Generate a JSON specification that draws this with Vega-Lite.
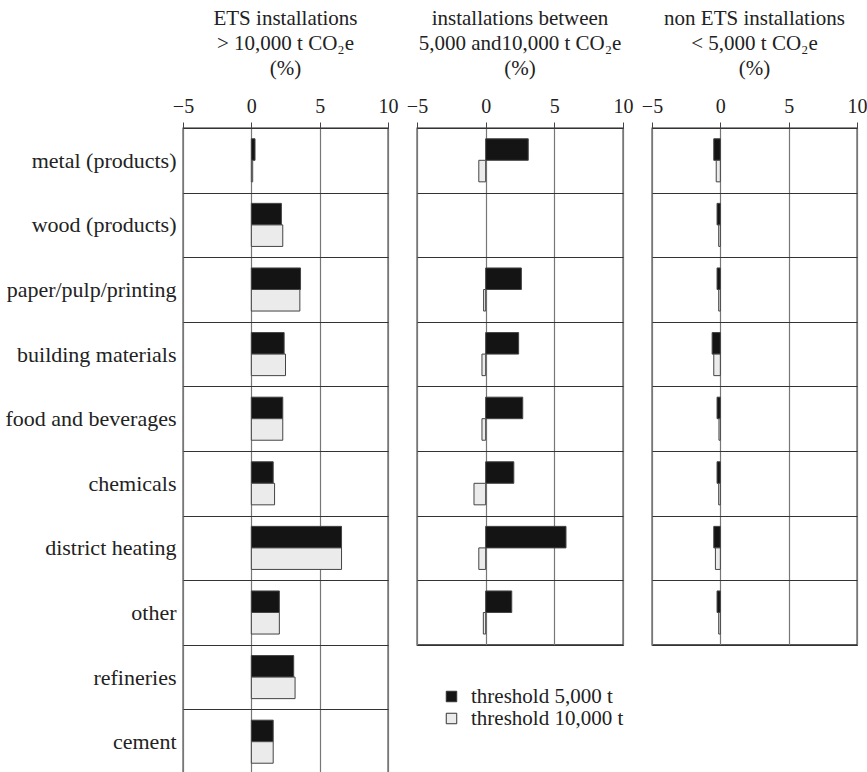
{
  "$schema": "https://vega.github.io/schema/vega-lite/v6.json",
  "padding": {"left": 4, "top": 7, "right": 5, "bottom": 0},
  "background": "white",
  "data": {
    "values": [
      {"panel": "ets", "sector": "metal (products)", "threshold": "threshold 5,000 t", "value": 0.27},
      {"panel": "ets", "sector": "metal (products)", "threshold": "threshold 10,000 t", "value": 0.1},
      {"panel": "ets", "sector": "wood (products)", "threshold": "threshold 5,000 t", "value": 2.2},
      {"panel": "ets", "sector": "wood (products)", "threshold": "threshold 10,000 t", "value": 2.3},
      {"panel": "ets", "sector": "paper/pulp/printing", "threshold": "threshold 5,000 t", "value": 3.6},
      {"panel": "ets", "sector": "paper/pulp/printing", "threshold": "threshold 10,000 t", "value": 3.55},
      {"panel": "ets", "sector": "building materials", "threshold": "threshold 5,000 t", "value": 2.4},
      {"panel": "ets", "sector": "building materials", "threshold": "threshold 10,000 t", "value": 2.5},
      {"panel": "ets", "sector": "food and beverages", "threshold": "threshold 5,000 t", "value": 2.3},
      {"panel": "ets", "sector": "food and beverages", "threshold": "threshold 10,000 t", "value": 2.3},
      {"panel": "ets", "sector": "chemicals", "threshold": "threshold 5,000 t", "value": 1.6},
      {"panel": "ets", "sector": "chemicals", "threshold": "threshold 10,000 t", "value": 1.7},
      {"panel": "ets", "sector": "district heating", "threshold": "threshold 5,000 t", "value": 6.6},
      {"panel": "ets", "sector": "district heating", "threshold": "threshold 10,000 t", "value": 6.6},
      {"panel": "ets", "sector": "other", "threshold": "threshold 5,000 t", "value": 2.05},
      {"panel": "ets", "sector": "other", "threshold": "threshold 10,000 t", "value": 2.05},
      {"panel": "ets", "sector": "refineries", "threshold": "threshold 5,000 t", "value": 3.1},
      {"panel": "ets", "sector": "refineries", "threshold": "threshold 10,000 t", "value": 3.2},
      {"panel": "ets", "sector": "cement", "threshold": "threshold 5,000 t", "value": 1.6},
      {"panel": "ets", "sector": "cement", "threshold": "threshold 10,000 t", "value": 1.6},
      {"panel": "mid", "sector": "metal (products)", "threshold": "threshold 5,000 t", "value": 3.1},
      {"panel": "mid", "sector": "metal (products)", "threshold": "threshold 10,000 t", "value": -0.5},
      {"panel": "mid", "sector": "paper/pulp/printing", "threshold": "threshold 5,000 t", "value": 2.6},
      {"panel": "mid", "sector": "paper/pulp/printing", "threshold": "threshold 10,000 t", "value": -0.15},
      {"panel": "mid", "sector": "building materials", "threshold": "threshold 5,000 t", "value": 2.4},
      {"panel": "mid", "sector": "building materials", "threshold": "threshold 10,000 t", "value": -0.27},
      {"panel": "mid", "sector": "food and beverages", "threshold": "threshold 5,000 t", "value": 2.7},
      {"panel": "mid", "sector": "food and beverages", "threshold": "threshold 10,000 t", "value": -0.27},
      {"panel": "mid", "sector": "chemicals", "threshold": "threshold 5,000 t", "value": 2.05},
      {"panel": "mid", "sector": "chemicals", "threshold": "threshold 10,000 t", "value": -0.85},
      {"panel": "mid", "sector": "district heating", "threshold": "threshold 5,000 t", "value": 5.85},
      {"panel": "mid", "sector": "district heating", "threshold": "threshold 10,000 t", "value": -0.5},
      {"panel": "mid", "sector": "other", "threshold": "threshold 5,000 t", "value": 1.9},
      {"panel": "mid", "sector": "other", "threshold": "threshold 10,000 t", "value": -0.17},
      {"panel": "non", "sector": "metal (products)", "threshold": "threshold 5,000 t", "value": -0.48},
      {"panel": "non", "sector": "metal (products)", "threshold": "threshold 10,000 t", "value": -0.3},
      {"panel": "non", "sector": "wood (products)", "threshold": "threshold 5,000 t", "value": -0.24},
      {"panel": "non", "sector": "wood (products)", "threshold": "threshold 10,000 t", "value": -0.12},
      {"panel": "non", "sector": "paper/pulp/printing", "threshold": "threshold 5,000 t", "value": -0.24},
      {"panel": "non", "sector": "paper/pulp/printing", "threshold": "threshold 10,000 t", "value": -0.12},
      {"panel": "non", "sector": "building materials", "threshold": "threshold 5,000 t", "value": -0.6},
      {"panel": "non", "sector": "building materials", "threshold": "threshold 10,000 t", "value": -0.48},
      {"panel": "non", "sector": "food and beverages", "threshold": "threshold 5,000 t", "value": -0.24},
      {"panel": "non", "sector": "food and beverages", "threshold": "threshold 10,000 t", "value": -0.1},
      {"panel": "non", "sector": "chemicals", "threshold": "threshold 5,000 t", "value": -0.24},
      {"panel": "non", "sector": "chemicals", "threshold": "threshold 10,000 t", "value": -0.12},
      {"panel": "non", "sector": "district heating", "threshold": "threshold 5,000 t", "value": -0.48},
      {"panel": "non", "sector": "district heating", "threshold": "threshold 10,000 t", "value": -0.36},
      {"panel": "non", "sector": "other", "threshold": "threshold 5,000 t", "value": -0.24},
      {"panel": "non", "sector": "other", "threshold": "threshold 10,000 t", "value": -0.12}
    ]
  },
  "config": {
    "font": "Liberation Serif",
    "view": {"stroke": "#222", "strokeWidth": 1.3},
    "concat": {"spacing": 29},
    "title": {"font": "Liberation Serif", "fontSize": 21, "fontWeight": "normal", "color": "#222", "lineHeight": 25, "anchor": "middle", "offset": 17},
    "axisX": {
      "orient": "top", "title": null, "labelFont": "Liberation Serif", "labelFontSize": 20, "labelColor": "#222",
      "tickSize": 6, "tickColor": "#444", "labelPadding": 6, "domain": false, "grid": true, "gridColor": "#777", "gridWidth": 1.2, "gridOpacity": 1, "labelFlush": false
    },
    "axisY": {
      "title": null, "ticks": false, "domain": false, "grid": true, "gridColor": "#333", "gridWidth": 1.2, "gridOpacity": 1, "tickBand": "extent",
      "labelFont": "Liberation Serif", "labelFontSize": 22, "labelColor": "#222", "labelPadding": 7, "labelLimit": 300
    },
    "legend": {
      "labelFont": "Liberation Serif", "labelFontSize": 21, "labelColor": "#222", "symbolType": "square", "symbolSize": 110,
      "symbolStrokeColor": "#333", "symbolStrokeWidth": 1, "rowPadding": 0, "labelOffset": 9, "title": null
    },
    "bar": {"stroke": "#444", "strokeWidth": 1}
  },
  "resolve": {"scale": {"color": "shared"}},
  "bounds": "flush",
  "hconcat": [
    {
      "width": 205, "height": 646,
      "title": {"text": ["ETS installations", "> 10,000 t CO₂e", "(%)"]},
      "transform": [{"filter": "datum.panel === 'ets'"}],
      "mark": {"type": "bar"},
      "encoding": {
        "y": {"field": "sector", "type": "nominal", "scale": {"domain": ["metal (products)", "wood (products)", "paper/pulp/printing", "building materials", "food and beverages", "chemicals", "district heating", "other", "refineries", "cement"], "paddingInner": 0, "paddingOuter": 0}},
        "yOffset": {"field": "threshold", "type": "nominal", "sort": ["threshold 5,000 t", "threshold 10,000 t"], "scale": {"paddingInner": 0, "paddingOuter": 0.5}},
        "x": {"field": "value", "type": "quantitative", "scale": {"domain": [-5, 10], "nice": false, "zero": false}, "axis": {"values": [-5, 0, 5, 10]}},
        "color": {
          "field": "threshold", "type": "nominal",
          "scale": {"domain": ["threshold 5,000 t", "threshold 10,000 t"], "range": ["#141414", "#ebebeb"]},
          "legend": {"orient": "none", "legendX": 258, "legendY": 558}
        }
      }
    },
    {
      "width": 206, "height": 516.8,
      "title": {"text": ["installations between", "5,000 and10,000 t CO₂e", "(%)"]},
      "transform": [{"filter": "datum.panel === 'mid'"}],
      "mark": {"type": "bar"},
      "encoding": {
        "y": {"field": "sector", "type": "nominal", "axis": {"labels": false}, "scale": {"domain": ["metal (products)", "wood (products)", "paper/pulp/printing", "building materials", "food and beverages", "chemicals", "district heating", "other"], "paddingInner": 0, "paddingOuter": 0}},
        "yOffset": {"field": "threshold", "type": "nominal", "sort": ["threshold 5,000 t", "threshold 10,000 t"], "scale": {"paddingInner": 0, "paddingOuter": 0.5}},
        "x": {"field": "value", "type": "quantitative", "scale": {"domain": [-5, 10], "nice": false, "zero": false}, "axis": {"values": [-5, 0, 5, 10]}},
        "color": {"field": "threshold", "type": "nominal", "scale": {"domain": ["threshold 5,000 t", "threshold 10,000 t"], "range": ["#141414", "#ebebeb"]}}
      }
    },
    {
      "width": 205, "height": 516.8,
      "title": {"text": ["non ETS installations", "< 5,000 t CO₂e", "(%)"]},
      "transform": [{"filter": "datum.panel === 'non'"}],
      "mark": {"type": "bar"},
      "encoding": {
        "y": {"field": "sector", "type": "nominal", "axis": {"labels": false}, "scale": {"domain": ["metal (products)", "wood (products)", "paper/pulp/printing", "building materials", "food and beverages", "chemicals", "district heating", "other"], "paddingInner": 0, "paddingOuter": 0}},
        "yOffset": {"field": "threshold", "type": "nominal", "sort": ["threshold 5,000 t", "threshold 10,000 t"], "scale": {"paddingInner": 0, "paddingOuter": 0.5}},
        "x": {"field": "value", "type": "quantitative", "scale": {"domain": [-5, 10], "nice": false, "zero": false}, "axis": {"values": [-5, 0, 5, 10]}},
        "color": {"field": "threshold", "type": "nominal", "scale": {"domain": ["threshold 5,000 t", "threshold 10,000 t"], "range": ["#141414", "#ebebeb"]}}
      }
    }
  ]
}
